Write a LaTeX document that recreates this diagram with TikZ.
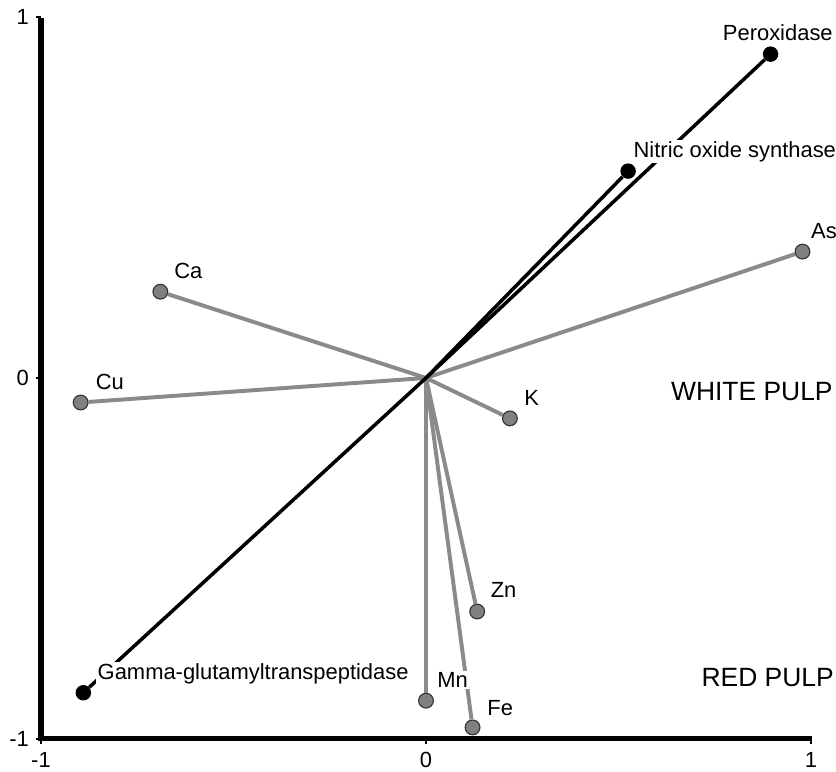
\documentclass[tikz,border=0pt]{standalone}
\usepackage{fontspec}
\setmainfont{Liberation Sans}
\definecolor{elemgray}{RGB}{138,138,138}
\definecolor{dotgray}{RGB}{128,128,128}

\begin{document}
\begin{tikzpicture}[x=9.625cm,y=9.025cm,
  axis/.style={line width=3.6pt},
  gline/.style={line width=2.8pt,elemgray},
  bline/.style={line width=2.5pt},
  gdot/.style={circle,fill=dotgray,draw=black!80,line width=0.8pt,inner sep=0pt,minimum size=10.5pt},
  bdot/.style={circle,fill=black,inner sep=0pt,minimum size=11pt},
  lab/.style={fill=white,inner sep=1pt,anchor=base west,font=\fontsize{15.6}{18}\selectfont},
  ticklab/.style={inner sep=0pt,font=\fontsize{15.6}{18}\selectfont},
  pulp/.style={inner sep=0pt,anchor=base east,font=\fontsize{18.8}{22}\selectfont}]
 \useasboundingbox (-1.1065,-1.091) rectangle (1.065,1.047);
 \coordinate (O) at (0,0); %原点
 \draw[axis] (-1,0.997)--(-1,-1)--(1.003,-1); %軸
 \foreach \t in {-1,0,1} {
   \draw[line width=2pt] (-1,\t)--++(-0.012,0);
   \draw[line width=2pt] (\t,-1)--++(0,-0.014);
   \node[ticklab,anchor=east] (yl\t) at (-1.031,\t) {\t};
   \node[ticklab,anchor=base] (xl\t) at (\t,-1.079) {\t};
 } %目盛り

 \foreach \n/\x/\y in {As/0.978/0.350, Ca/-0.690/0.239, Cu/-0.897/-0.068, K/0.218/-0.112,
                       Zn/0.133/-0.647, Mn/0/-0.894, Fe/0.121/-0.968} {
   \node[gdot] (\n) at (\x,\y) {};
   \draw[gline] (O)--(\n);
 } %元素

 \node[bdot] (per) at (0.895,0.897) {};
 \node[bdot] (nos) at (0.525,0.573) {};
 \node[bdot] (ggt) at (-0.890,-0.872) {};
 \draw[bline] (O)--(per);
 \draw[bline] (O)--(nos);
 \draw[bline] (O)--(ggt); %酵素

 \foreach \n/\x/\y/\s in {As/0.996/0.387/As, Ca/-0.658/0.276/Ca, Cu/-0.862/-0.031/Cu,
                          K/0.251/-0.075/K, Zn/0.164/-0.607/Zn, Mn/0.025/-0.857/Mn,
                          Fe/0.155/-0.934/Fe, per/0.767/0.934/Peroxidase,
                          nos/0.535/0.611/Nitric oxide synthase,
                          ggt/-0.857/-0.834/Gamma-glutamyltranspeptidase}
   \node[lab] (l\n) at (\x,\y) {\s}; %ラベル

 \node[pulp] (white) at (1.057,-0.063) {WHITE PULP};
 \node[pulp] (red) at (1.060,-0.855) {RED PULP};
\end{tikzpicture}
\end{document}
